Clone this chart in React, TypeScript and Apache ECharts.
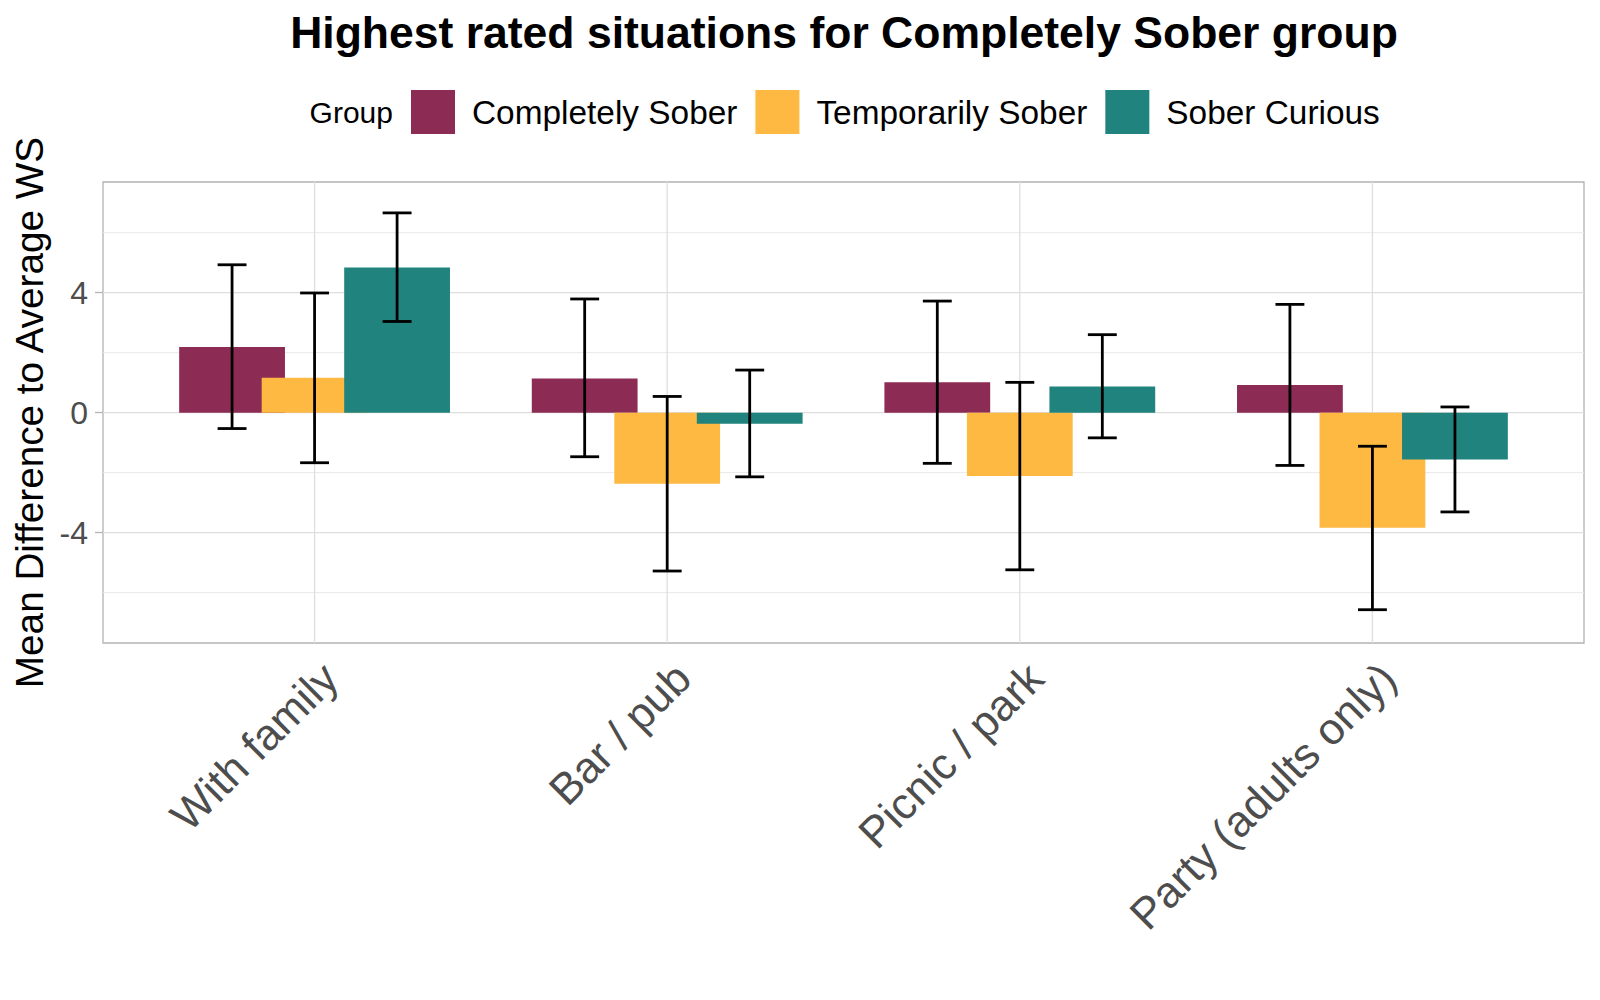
import React, { useEffect, useRef } from 'react';
import * as echarts from 'echarts';

// Situations on the x axis
const categories = ['With family', 'Bar / pub', 'Picnic / park', 'Party (adults only)'];

// Groups and their fill colours
const groups = ['Completely Sober', 'Temporarily Sober', 'Sober Curious'];
const groupColors = ['#8c2b53', '#fdb942', '#20837d'];

// Mean difference to average WS, per situation
const completelySober = [2.19, 1.14, 1.01, 0.92];
const temporarilySober = [1.16, -2.37, -2.11, -3.84];
const soberCurious = [4.84, -0.37, 0.87, -1.56];

// Error bar bounds, per situation
const completelySoberLow = [-0.53, -1.47, -1.69, -1.76];
const completelySoberHigh = [4.93, 3.79, 3.72, 3.61];
const temporarilySoberLow = [-1.67, -5.28, -5.24, -6.57];
const temporarilySoberHigh = [3.99, 0.54, 1.01, -1.12];
const soberCuriousLow = [3.04, -2.14, -0.84, -3.31];
const soberCuriousHigh = [6.66, 1.42, 2.6, 0.19];

// Axis ticks and grid lines
const yTicks = [-4, 0, 4];
const yMinorGrid = [-6, -2, 2, 6];

const FONT = "'Liberation Sans', Arial, Helvetica, sans-serif";
const X_MIN = 0.4;
const X_MAX = 4.6;
const Y_MIN = -7.68;
const Y_MAX = 7.69;
const BAR_FRACTION = 0.3;
const BAR_GAP = -0.22;
const DODGE = BAR_FRACTION * (1 + BAR_GAP);
const CAP_HALF = 0.041;

const seriesValues = [completelySober, temporarilySober, soberCurious];
const seriesLow = [completelySoberLow, temporarilySoberLow, soberCuriousLow];
const seriesHigh = [completelySoberHigh, temporarilySoberHigh, soberCuriousHigh];

export default function App() {
  const ref = useRef<HTMLDivElement>(null);

  useEffect(() => {
    if (!ref.current) return;
    const chart = echarts.init(ref.current, undefined, { renderer: 'svg' });

    const xPositions = categories.map((_, i) => i + 1);

    // grid lines: [orientation (0 = horizontal, 1 = vertical), value, major]
    const gridLineData: number[][] = [
      ...yMinorGrid.map((v) => [0, v, 0]),
      ...yTicks.map((v) => [0, v, 1]),
      ...xPositions.map((v) => [1, v, 1]),
    ];

    const errorData: number[][] = [];
    groups.forEach((_, g) => {
      categories.forEach((__, i) => {
        errorData.push([xPositions[i], seriesLow[g][i], seriesHigh[g][i], g]);
      });
    });

    const barSeries = groups.map((name, g) => ({
      name,
      type: 'bar',
      xAxisIndex: 0,
      yAxisIndex: 0,
      barWidth: `${BAR_FRACTION * 100}%`,
      barGap: `${BAR_GAP * 100}%`,
      itemStyle: { color: groupColors[g] },
      z: 2,
      silent: true,
      data: categories.map((_, i) => [xPositions[i], seriesValues[g][i]]),
    }));

    const option: any = {
      animation: false,
      backgroundColor: '#ffffff',
      title: {
        text: 'Highest rated situations for Completely Sober group',
        left: 844,
        top: 10,
        textAlign: 'center',
        padding: 0,
        textStyle: {
          fontSize: 44.5,
          fontWeight: 'bold',
          color: '#000000',
          fontFamily: FONT,
          lineHeight: 44,
        },
      },
      legend: {
        data: groups,
        left: 411,
        top: 90,
        padding: 0,
        itemWidth: 44,
        itemHeight: 44,
        itemGap: 18,
        icon: 'rect',
        selectedMode: false,
        textStyle: {
          fontSize: 33.4,
          color: '#000000',
          fontFamily: FONT,
          padding: [0, 0, 0, 12],
        },
      },
      graphic: [
        {
          type: 'text',
          x: 393,
          y: 112,
          style: {
            text: 'Group',
            fontSize: 30,
            fontFamily: FONT,
            fill: '#000000',
            align: 'right',
            verticalAlign: 'middle',
          },
        },
      ],
      grid: {
        left: 103,
        top: 182,
        width: 1481,
        height: 461,
        show: true,
        borderColor: '#b3b3b3',
        borderWidth: 1.3,
        backgroundColor: '#ffffff',
        containLabel: false,
      },
      xAxis: {
        type: 'value',
        min: X_MIN,
        max: X_MAX,
        axisLine: { show: false },
        splitLine: { show: false },
        axisTick: {
          show: true,
          length: 8,
          customValues: xPositions,
          lineStyle: { color: '#b3b3b3', width: 1.3 },
        },
        axisLabel: {
          customValues: xPositions,
          formatter: (v: number) => categories[Math.round(v) - 1] ?? '',
          rotate: 45,
          align: 'right',
          verticalAlign: 'top',
          margin: 12,
          fontSize: 44,
          lineHeight: 44,
          color: '#4d4d4d',
          fontFamily: FONT,
        },
      },
      yAxis: {
        type: 'value',
        min: Y_MIN,
        max: Y_MAX,
        name: 'Mean Difference to Average WS',
        nameLocation: 'middle',
        nameGap: 52,
        nameTextStyle: { fontSize: 38.7, color: '#000000', fontFamily: FONT },
        axisLine: { show: false },
        splitLine: { show: false },
        axisTick: {
          show: true,
          length: 8,
          customValues: yTicks,
          lineStyle: { color: '#b3b3b3', width: 1.3 },
        },
        axisLabel: {
          customValues: yTicks,
          margin: 15,
          fontSize: 32,
          color: '#4d4d4d',
          fontFamily: FONT,
        },
      },
      series: [
        {
          type: 'custom',
          name: 'grid',
          z: 1,
          silent: true,
          data: gridLineData,
          renderItem: (_params: any, api: any) => {
            const orient = api.value(0);
            const v = api.value(1);
            const major = api.value(2) === 1;
            let p0: number[];
            let p1: number[];
            if (orient === 0) {
              p0 = api.coord([X_MIN, v]);
              p1 = api.coord([X_MAX, v]);
            } else {
              p0 = api.coord([v, Y_MIN]);
              p1 = api.coord([v, Y_MAX]);
            }
            return {
              type: 'line',
              shape: { x1: p0[0], y1: p0[1], x2: p1[0], y2: p1[1] },
              style: {
                stroke: major ? '#dedede' : '#e9e9e9',
                lineWidth: major ? 1.3 : 1,
              },
            };
          },
        },
        ...barSeries,
        {
          type: 'custom',
          name: 'error',
          z: 3,
          silent: true,
          data: errorData,
          renderItem: (_params: any, api: any) => {
            const cx = api.value(0) + (api.value(3) - 1) * DODGE;
            const top = api.coord([cx, api.value(2)]);
            const bot = api.coord([cx, api.value(1)]);
            const half = api.size([CAP_HALF, 0])[0];
            const style = { stroke: '#000000', lineWidth: 2.8 };
            return {
              type: 'group',
              children: [
                { type: 'line', shape: { x1: top[0], y1: top[1], x2: bot[0], y2: bot[1] }, style },
                { type: 'line', shape: { x1: top[0] - half, y1: top[1], x2: top[0] + half, y2: top[1] }, style },
                { type: 'line', shape: { x1: bot[0] - half, y1: bot[1], x2: bot[0] + half, y2: bot[1] }, style },
              ],
            };
          },
        },
      ],
    };

    chart.setOption(option);
    return () => chart.dispose();
  }, []);

  return (
    <div
      ref={ref}
      style={{ position: 'fixed', left: 0, top: 0, width: 1600, height: 1000 }}
    />
  );
}
